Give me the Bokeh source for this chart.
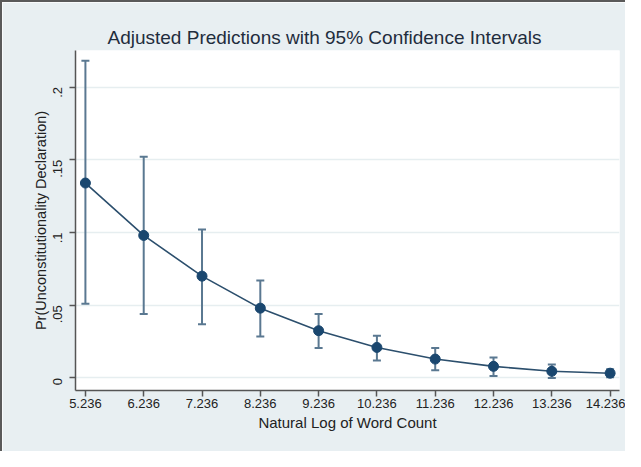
import math
from bokeh.plotting import figure
from bokeh.models import ColumnDataSource, FixedTicker, Range1d, Whisker, TeeHead, Title
from bokeh.embed import file_html
from bokeh.resources import INLINE

# ---- data ----
log_word_count = [5.236, 6.236, 7.236, 8.236, 9.236, 10.236, 11.236, 12.236, 13.236, 14.236]
x_tick_labels = ["5.236", "6.236", "7.236", "8.236", "9.236", "10.236", "11.236", "12.236", "13.236", "14.236"]
pred = [0.134, 0.098, 0.070, 0.048, 0.0325, 0.021, 0.013, 0.008, 0.0046, 0.0033]
ci_lower = [0.051, 0.044, 0.037, 0.0285, 0.0206, 0.012, 0.0053, 0.0013, 0.0, 0.0005]
ci_upper = [0.218, 0.152, 0.102, 0.067, 0.044, 0.029, 0.0206, 0.014, 0.0093, 0.006]
y_ticks = [0, 0.05, 0.1, 0.15, 0.2]
y_tick_labels = ["0", ".05", ".1", ".15", ".2"]

FONT = "Liberation Sans"
BG = "#e8eff2"
NAVY = "#1a476f"
CI_COLOR = "#5a7891"
TEXT = "#222222"

src = ColumnDataSource(dict(x=log_word_count, y=pred, lo=ci_lower, hi=ci_upper))

p = figure(width=625, height=451, output_backend="svg", toolbar_location=None,
           x_range=Range1d(5.066, 14.397), y_range=Range1d(-0.0086, 0.2251),
           min_border_left=73, min_border_right=8, min_border_top=48, min_border_bottom=63)
p.border_fill_color = BG
p.background_fill_color = "white"
p.outline_line_color = None
p.styles = {"border-left": "2px solid #5a5a5a", "border-top": "2px solid #5a5a5a",
            "box-sizing": "border-box"}

p.title = Title(text="Adjusted Predictions with 95% Confidence Intervals", align="left",
                text_font=FONT, text_font_size="19px", text_font_style="normal",
                text_color="#1f2d3d", offset=32, standoff=6)

# grid
p.xgrid.grid_line_color = None
p.ygrid.grid_line_color = "#e6eef0"
p.ygrid.grid_line_width = 1.5
p.ygrid.ticker = FixedTicker(ticks=y_ticks)

# axes
p.xaxis.ticker = FixedTicker(ticks=log_word_count)
p.xaxis.major_label_overrides = {v: s for v, s in zip(log_word_count, x_tick_labels)}
p.yaxis.ticker = FixedTicker(ticks=y_ticks)
p.yaxis.major_label_overrides = {v: s for v, s in zip(y_ticks, y_tick_labels)}
p.yaxis.major_label_orientation = math.pi / 2
p.xaxis.axis_label = "Natural Log of Word Count"
p.yaxis.axis_label = "Pr(Unconstitutionality Declaration)"
for ax in (p.xaxis, p.yaxis):
    ax.axis_line_color = "#555555"
    ax.axis_line_width = 1.5
    ax.major_tick_line_color = "#555555"
    ax.major_tick_line_width = 1.5
    ax.major_tick_out = 6
    ax.major_tick_in = 0
    ax.minor_tick_line_color = None
    ax.major_label_text_font = FONT
    ax.major_label_text_font_size = "13px"
    ax.major_label_text_color = TEXT
    ax.axis_label_text_font = FONT
    ax.axis_label_text_font_size = "15px"
    ax.axis_label_text_font_style = "normal"
    ax.axis_label_text_color = TEXT
p.yaxis.axis_label_text_font_size = "14.5px"
p.xaxis.major_label_standoff = 2
p.xaxis.axis_label_standoff = 3
p.yaxis.major_label_standoff = 12
p.yaxis.axis_label_standoff = -3

# CI whiskers
w = Whisker(source=src, base="x", lower="lo", upper="hi", dimension="height",
            line_color=CI_COLOR, line_width=2,
            lower_head=TeeHead(size=8, line_color=CI_COLOR, line_width=2),
            upper_head=TeeHead(size=8, line_color=CI_COLOR, line_width=2))
p.add_layout(w)

# connecting line + markers
p.line("x", "y", source=src, line_color="#2c4f6d", line_width=1.6)
p.scatter("x", "y", source=src, size=10, fill_color=NAVY, line_color=NAVY)

open("out.html", "w").write(file_html(p, INLINE))
